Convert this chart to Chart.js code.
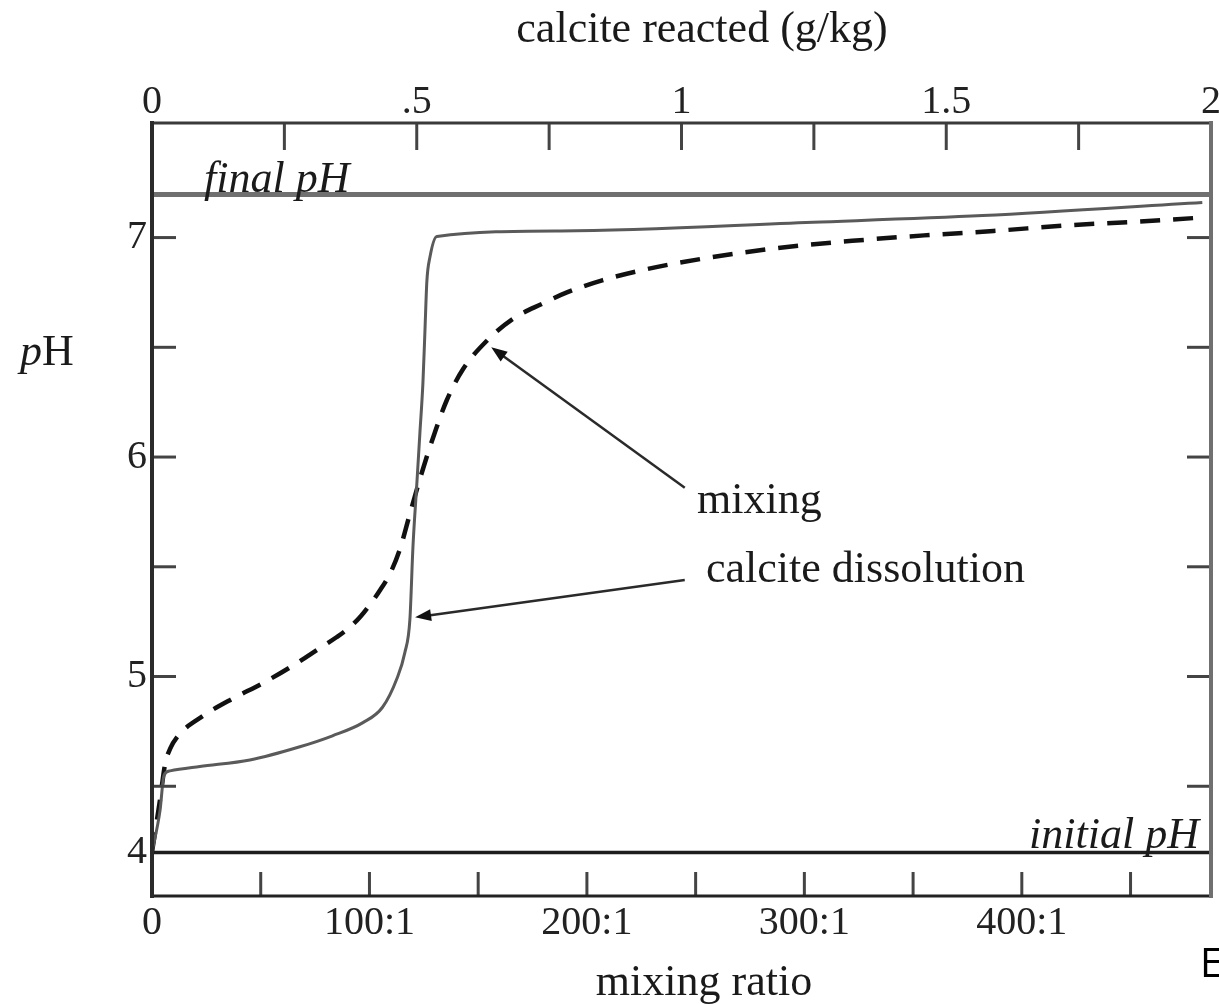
<!DOCTYPE html>
<html>
<head>
<meta charset="utf-8">
<script src="https://cdn.jsdelivr.net/npm/chart.js@4.4.1/dist/chart.umd.min.js"></script>
<style>
  body { margin: 0; background: #fff; }
  canvas { display: block; }
</style>
</head>
<body>
<canvas id="phChart" width="1219" height="1004"></canvas>
<script>
// calcite dissolution curve (solid), x = mixing ratio (n:1), y = pH
const dissolutionRatio = [0, 3.7, 5.5, 8.3, 22, 45, 68, 83, 97, 106, 112.6, 116.3, 118.6, 120, 121.8, 123.2, 124.6, 125.5, 126.4, 127.8, 131, 188, 304, 382, 483];
const dissolutionPH = [4.2, 4.39, 4.55, 4.57, 4.59, 4.62, 4.68, 4.73, 4.79, 4.86, 4.99, 5.11, 5.26, 5.59, 5.88, 6.11, 6.34, 6.57, 6.8, 6.91, 7.005, 7.03, 7.07, 7.1, 7.16];

// mixing curve (dashed)
const mixingRatio = [0, 3.7, 6, 8.3, 12, 23.4, 37.2, 51, 64.8, 77.2, 85, 91, 96, 100, 105, 110, 114, 118, 122, 126, 130, 135.6, 143, 154, 166, 179.8, 190.8, 207, 227, 257, 290, 322, 355, 387, 420, 452, 481];
const mixingPH = [4.2, 4.44, 4.6, 4.67, 4.73, 4.82, 4.9, 4.97, 5.05, 5.13, 5.18, 5.225, 5.275, 5.325, 5.395, 5.48, 5.58, 5.72, 5.86, 5.99, 6.11, 6.26, 6.4, 6.53, 6.63, 6.7, 6.75, 6.805, 6.855, 6.91, 6.955, 6.985, 7.01, 7.03, 7.055, 7.072, 7.09];

const finalPH = 7.196;
const initialPH = 4.198;
const ratioRange = [0, 487];
const calciteRange = [0, 2];
const pHRange = [4.0, 7.522];

// axis ticks and labels
const ratioTicks = [0, 100, 200, 300, 400];
const ratioTickLabels = ['0', '100:1', '200:1', '300:1', '400:1'];
const ratioMarks = [50, 100, 150, 200, 250, 300, 350, 400, 450];
const calciteTicks = [0, 0.5, 1, 1.5, 2];
const calciteTickLabels = ['0', '.5', '1', '1.5', '2'];
const calciteMarks = [0.25, 0.5, 0.75, 1, 1.25, 1.5, 1.75];
const pHTicks = [initialPH, 5, 6, 7]; // the "4" sits on the initial pH line
const pHTickLabels = ['4', '5', '6', '7'];
const pHMarks = [4.5, 5, 5.5, 6, 6.5, 7];

// arrows: [ratio, pH] of tail and head
const mixingArrow = [[245, 5.86], [156, 6.5]];
const dissolutionArrow = [[245, 5.44], [121, 5.27]];

const serif = '"Liberation Serif", "Times New Roman", serif';

function pts(xs, ys) {
    return xs.map((x, i) => ({ x: x, y: ys[i] }));
}

const notes = {
    id: 'notes',
    afterDraw(chart) {
        const ctx = chart.ctx;
        const a = chart.chartArea;
        const sx = chart.scales.x, st = chart.scales.x2, sy = chart.scales.y;

        function line(x1, y1, x2, y2) {
            ctx.beginPath();
            ctx.moveTo(x1, y1);
            ctx.lineTo(x2, y2);
            ctx.stroke();
        }

        ctx.save();
        ctx.lineCap = 'butt';

        // inward tick marks
        ctx.strokeStyle = '#444';
        ctx.lineWidth = 3;
        ratioMarks.forEach(v => {
            const px = sx.getPixelForValue(v);
            line(px, a.bottom, px, a.bottom - 24);
        });
        calciteMarks.forEach(v => {
            const px = st.getPixelForValue(v);
            line(px, a.top, px, a.top + 27);
        });
        pHMarks.forEach(v => {
            const py = sy.getPixelForValue(v);
            line(a.left, py, a.left + 24, py);
            line(a.right, py, a.right - 24, py);
        });

        // frame
        ctx.strokeStyle = '#3a3a3a';
        ctx.lineWidth = 3;
        line(a.left, a.top, a.right, a.top);
        ctx.strokeStyle = '#222';
        line(a.left, a.bottom, a.right, a.bottom);
        ctx.lineWidth = 4;
        ctx.strokeStyle = '#2b2b2b';
        line(a.left, a.top - 2, a.left, a.bottom + 2);
        ctx.strokeStyle = '#707070';
        line(a.right, a.top - 2, a.right, a.bottom + 2);

        // arrows
        function arrow(ar) {
            const x1 = sx.getPixelForValue(ar[0][0]), y1 = sy.getPixelForValue(ar[0][1]);
            const x2 = sx.getPixelForValue(ar[1][0]), y2 = sy.getPixelForValue(ar[1][1]);
            const ang = Math.atan2(y2 - y1, x2 - x1);
            ctx.strokeStyle = '#2a2a2a';
            ctx.lineWidth = 2.5;
            line(x1, y1, x2 - 10 * Math.cos(ang), y2 - 10 * Math.sin(ang));
            ctx.fillStyle = '#111';
            ctx.beginPath();
            ctx.moveTo(x2, y2);
            ctx.lineTo(x2 - 16 * Math.cos(ang) + 6 * Math.sin(ang), y2 - 16 * Math.sin(ang) - 6 * Math.cos(ang));
            ctx.lineTo(x2 - 16 * Math.cos(ang) - 6 * Math.sin(ang), y2 - 16 * Math.sin(ang) + 6 * Math.cos(ang));
            ctx.closePath();
            ctx.fill();
        }
        arrow(mixingArrow);
        arrow(dissolutionArrow);

        // text
        ctx.fillStyle = '#1a1a1a';
        ctx.textBaseline = 'alphabetic';
        ctx.textAlign = 'left';
        ctx.font = '44px ' + serif;
        ctx.fillText('mixing', 697, 513);
        ctx.fillText('calcite dissolution', 706, 582);

        ctx.textAlign = 'center';
        ctx.fillText('calcite reacted (g/kg)', 702, 42);
        ctx.fillText('mixing ratio', 704, 995);

        ctx.textAlign = 'left';
        ctx.font = 'italic 44px ' + serif;
        ctx.fillText('final pH', 204, 192);
        ctx.textAlign = 'right';
        ctx.fillText('initial pH', 1199, 848);

        // pH axis label, italic p
        ctx.textAlign = 'left';
        ctx.fillText('p', 20, 365);
        const pw = ctx.measureText('p').width;
        ctx.font = '44px ' + serif;
        ctx.fillText('H', 20 + pw, 365);

        ctx.fillStyle = '#000';
        ctx.font = '40px "Open Sans", sans-serif';
        ctx.fillText('E', 1200, 977);
        ctx.restore();
    }
};

const tickFont = { family: serif, size: 40 };

new Chart(document.getElementById('phChart'), {
    type: 'line',
    data: {
        datasets: [
            {
                label: 'final pH',
                data: pts(ratioRange, [finalPH, finalPH]),
                borderColor: '#707070',
                borderWidth: 5,
                pointRadius: 0
            },
            {
                label: 'initial pH',
                data: pts(ratioRange, [initialPH, initialPH]),
                borderColor: '#1e1e1e',
                borderWidth: 3.5,
                pointRadius: 0
            },
            {
                label: 'calcite dissolution',
                data: pts(dissolutionRatio, dissolutionPH),
                borderColor: '#5a5a5a',
                borderWidth: 3,
                pointRadius: 0,
                cubicInterpolationMode: 'monotone'
            },
            {
                label: 'mixing',
                data: pts(mixingRatio, mixingPH),
                borderColor: '#111',
                borderWidth: 4.5,
                borderDash: [20, 13],
                pointRadius: 0,
                cubicInterpolationMode: 'monotone'
            }
        ]
    },
    options: {
        responsive: false,
        animation: false,
        layout: { padding: { left: 0, right: 8, top: 0, bottom: 0 } },
        plugins: {
            legend: { display: false },
            tooltip: { enabled: false }
        },
        scales: {
            x: {
                type: 'linear',
                position: 'bottom',
                min: ratioRange[0],
                max: ratioRange[1],
                grid: { display: false, drawTicks: false },
                border: { display: false },
                afterBuildTicks: s => { s.ticks = ratioTicks.map(v => ({ value: v })); },
                afterFit: s => { s.height = 108; },
                ticks: {
                    autoSkip: false,
                    maxRotation: 0,
                    padding: 3,
                    color: '#222',
                    font: tickFont,
                    callback: (v, i) => ratioTickLabels[i]
                }
            },
            x2: {
                type: 'linear',
                position: 'top',
                min: calciteRange[0],
                max: calciteRange[1],
                grid: { display: false, drawTicks: false },
                border: { display: false },
                afterBuildTicks: s => { s.ticks = calciteTicks.map(v => ({ value: v })); },
                afterFit: s => { s.height = 123; },
                ticks: {
                    autoSkip: false,
                    maxRotation: 0,
                    padding: -3,
                    color: '#222',
                    font: tickFont,
                    callback: (v, i) => calciteTickLabels[i]
                }
            },
            y: {
                type: 'linear',
                position: 'left',
                min: pHRange[0],
                max: pHRange[1],
                grid: { display: false, drawTicks: false },
                border: { display: false },
                afterBuildTicks: s => { s.ticks = pHTicks.map(v => ({ value: v })); },
                afterFit: s => { s.width = 152; },
                ticks: {
                    autoSkip: false,
                    padding: 5,
                    color: '#222',
                    font: tickFont,
                    callback: (v, i) => pHTickLabels[i]
                }
            }
        }
    },
    plugins: [notes]
});
</script>
</body>
</html>
